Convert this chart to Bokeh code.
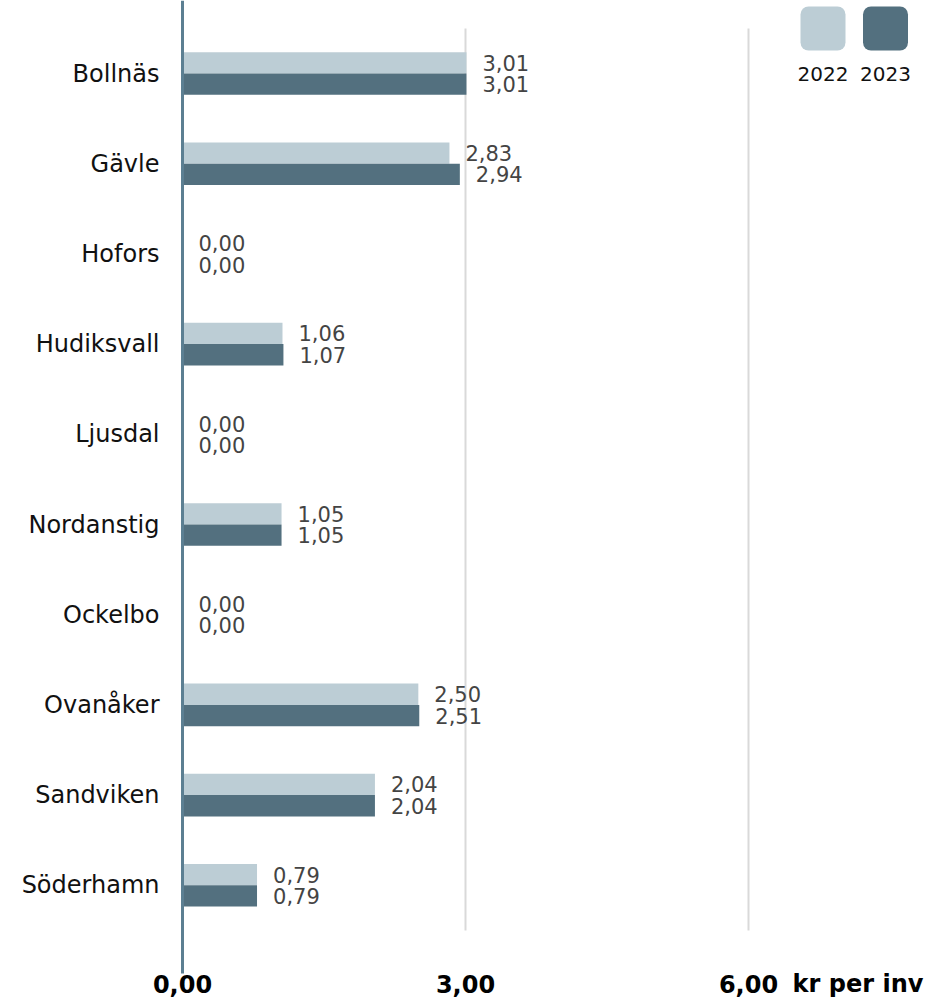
from bokeh.plotting import figure
from bokeh.models import ColumnDataSource, BoxAnnotation
from bokeh.core.properties import value
from bokeh.embed import file_html
from bokeh.resources import INLINE

# ---- data ----
municipalities = ["Bollnäs", "Gävle", "Hofors", "Hudiksvall", "Ljusdal",
                  "Nordanstig", "Ockelbo", "Ovanåker", "Sandviken", "Söderhamn"]
values_2022 = [3.01, 2.83, 0.00, 1.06, 0.00, 1.05, 0.00, 2.50, 2.04, 0.79]
values_2023 = [3.01, 2.94, 0.00, 1.07, 0.00, 1.05, 0.00, 2.51, 2.04, 0.79]
series_names = ["2022", "2023"]
x_tick_values = [0, 3, 6]
x_tick_labels = ["0,00", "3,00", "6,00"]
unit_label = "kr per inv"

C_LIGHT = "#bccdd5"
C_DARK = "#53707f"
C_AXIS = "#5c7f92"
FONT = "DejaVu Sans"

def fmt(v):
    return f"{v:.2f}".replace(".", ",")

n = len(municipalities)
row_y = [-i for i in range(n)]
off = 0.118
bar_h = 0.236

src22 = ColumnDataSource(dict(y=[r + off for r in row_y], v=values_2022,
                              lab=[fmt(v) for v in values_2022]))
src23 = ColumnDataSource(dict(y=[r - off for r in row_y], v=values_2023,
                              lab=[fmt(v) for v in values_2023]))
src_cat = ColumnDataSource(dict(y=row_y, name=municipalities))

W, H = 925, 1000
px_per_unit = 283 / 3.0
zero_px = 182
row_px = 90.2
top_val = 73 / row_px

def ydata(py):
    return top_val - py / row_px

x_start = -zero_px / px_per_unit

p = figure(width=W, height=H, output_backend="svg", toolbar_location=None,
           x_range=(x_start, x_start + W / px_per_unit),
           y_range=(top_val - H / row_px, top_val),
           min_border_left=0, min_border_right=0,
           min_border_top=0, min_border_bottom=0)
p.outline_line_color = None
p.grid.visible = False
p.axis.visible = False
p.background_fill_color = "white"
p.border_fill_color = "white"

# grid lines at 3 and 6
p.segment(x0=[3, 6], x1=[3, 6], y0=[-n + 0.5] * 2, y1=[0.5] * 2,
          line_color="#d9d9d9", line_width=2)

p.hbar(y="y", right="v", left=0, height=bar_h, source=src22,
       fill_color=C_LIGHT, line_color=None)
p.hbar(y="y", right="v", left=0, height=bar_h, source=src23,
       fill_color=C_DARK, line_color=None)

for s in (src22, src23):
    p.text(x="v", y="y", text="lab", source=s, x_offset=16,
           text_align="left", text_baseline="middle",
           text_font=value(FONT), text_font_size="21px", text_color="#444444")

# category axis: line + labels
p.segment(x0=[0], x1=[0], y0=[ydata(973)], y1=[top_val],
          line_color=C_AXIS, line_width=3)
p.text(x=0, y="y", text="name", source=src_cat, x_offset=-23,
       text_align="right", text_baseline="middle", text_font=value(FONT),
       text_font_size="24px", text_color="#111111")

# value axis labels
unit_pos = (857.5 - zero_px) / px_per_unit
p.text(x=x_tick_values + [unit_pos], y=[ydata(983)] * 4,
       text=x_tick_labels + [unit_label], text_align="center",
       text_baseline="middle", text_font=value(FONT), text_font_size="24px",
       text_font_style="bold", text_color="black")

# legend (top right)
leg_x = [(822.5 - zero_px) / px_per_unit, (885 - zero_px) / px_per_unit]
half_w = 22.5 / px_per_unit
for xc, col in zip(leg_x, [C_LIGHT, C_DARK]):
    p.add_layout(BoxAnnotation(left=xc - half_w, right=xc + half_w,
                               top=ydata(6), bottom=ydata(50),
                               fill_color=col, fill_alpha=1, line_color=None,
                               border_radius=8))
p.text(x=leg_x, y=[0, 0], text=series_names, text_align="center",
       text_baseline="middle", text_font=value(FONT), text_font_size="20px",
       text_color="#111111")

open("out.html", "w").write(file_html(p, INLINE))
